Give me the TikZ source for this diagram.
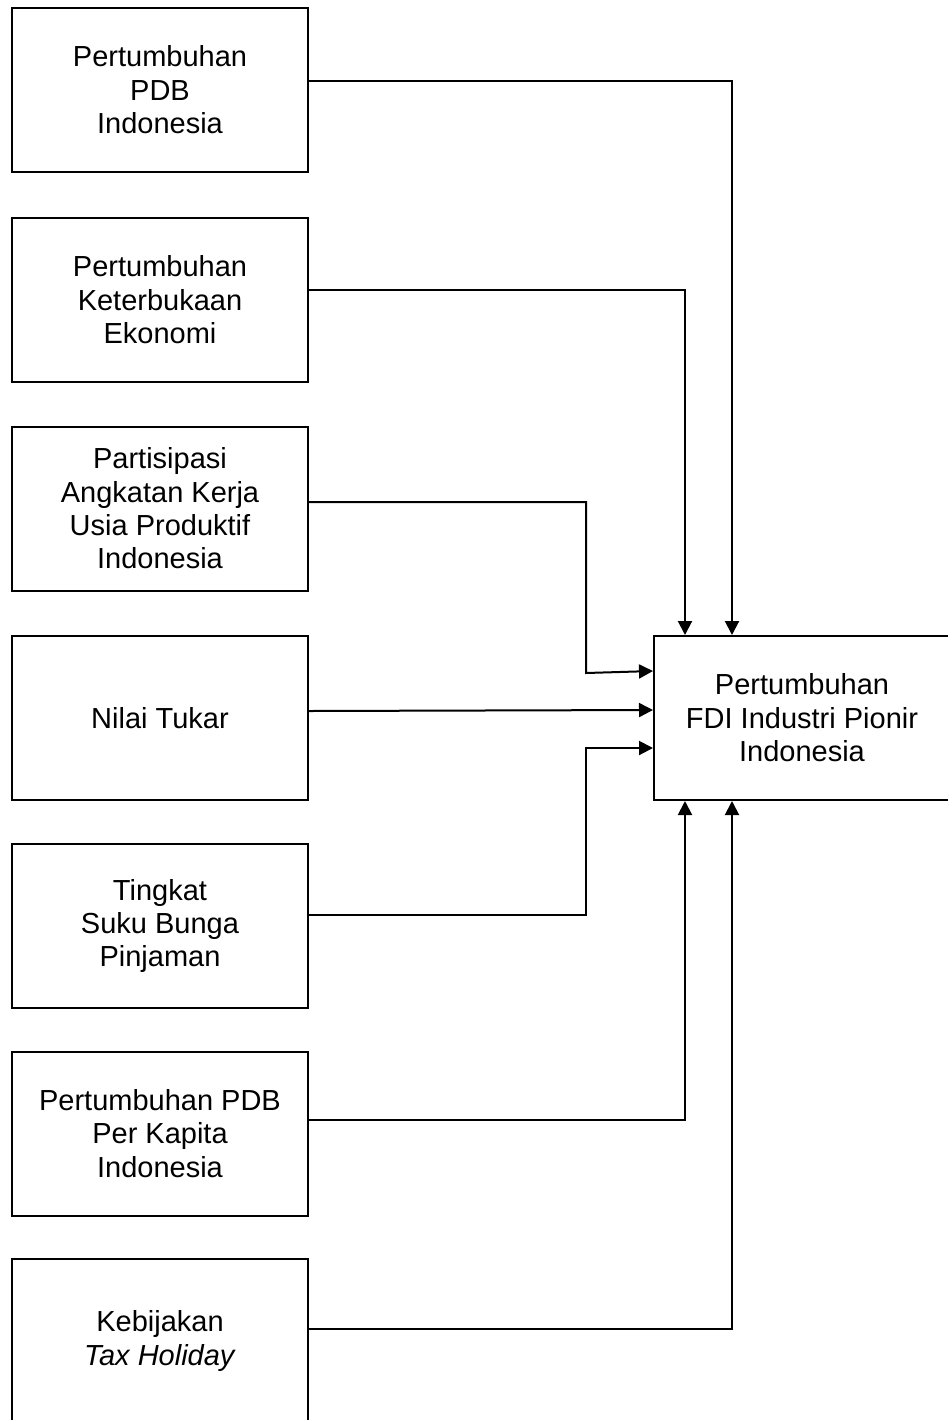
\documentclass[tikz,border=0pt]{standalone}
\usepackage{fontspec}
\setmainfont{Liberation Sans}
\usetikzlibrary{arrows.meta}

\tikzset{
kotak/.style={draw,rectangle,line width=1pt,
minimum width=148pt,minimum height=82pt,inner sep=0pt,
align=center,fill=white},
panah/.style={-{Triangle[length=7pt,width=7pt]},line width=1pt}
}

\begin{document}
\begin{tikzpicture}[x=0.5pt,y=-0.5pt,
font=\fontsize{14.5}{16.7}\selectfont]
\useasboundingbox (0,0) rectangle (948,1420);

\node[kotak](pdb) at (160,90){Pertumbuhan\\PDB\\Indonesia};

\node[kotak](terbuka) at (160,300){Pertumbuhan\\Keterbukaan\\Ekonomi};

\node[kotak](naker) at (160,508.5){Partisipasi\\Angkatan Kerja\\Usia Produktif\\Indonesia};

\node[kotak](kurs) at (160,718){Nilai Tukar};

\node[kotak](bunga) at (160,926){Tingkat\\Suku Bunga\\Pinjaman};

\node[kotak](kapita) at (160,1133.5){Pertumbuhan PDB\\Per Kapita\\Indonesia};

\node[kotak](tax) at (160,1341){Kebijakan\\\textit{Tax Holiday}};

\node[kotak](fdi) at (802,718){Pertumbuhan\\FDI Industri Pionir\\Indonesia};

\coordinate (belok1) at (586,673);
\coordinate (belok2) at (586,748);

\draw [panah] ([yshift=4.5pt]pdb.east) -| ([xshift=39.5pt]fdi.north west);
\draw [panah] ([yshift=5pt]terbuka.east) -| ([xshift=16pt]fdi.north west);
\draw [panah] ([yshift=3.25pt]naker.east) -| (belok1) -- ([yshift=23.5pt]fdi.west);
\draw [panah] ([yshift=3.5pt]kurs.east) -- ([yshift=4pt]fdi.west);
\draw [panah] ([yshift=5.5pt]bunga.east) -| (belok2) -- (belok2 -| fdi.west);
\draw [panah] ([yshift=7pt]kapita.east) -| ([xshift=16pt]fdi.south west);
\draw [panah] ([yshift=6pt]tax.east) -| ([xshift=39.5pt]fdi.south west);
\end{tikzpicture}
\end{document}
